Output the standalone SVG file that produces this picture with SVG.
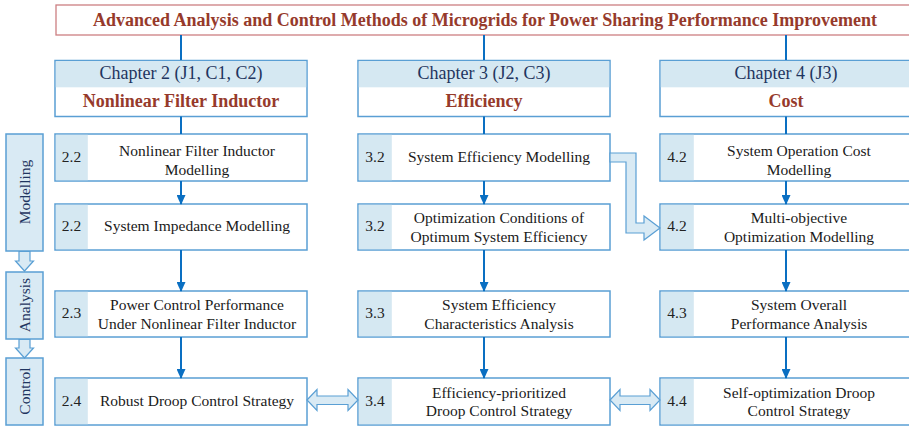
<svg xmlns="http://www.w3.org/2000/svg" width="909" height="426" viewBox="0 0 909 426">
<defs>
<style>
.box{fill:#ffffff;stroke:#5a9fd4;stroke-width:1.5}
.band{fill:#d5e8f2;stroke:none}
.side{fill:#d9eaf4;stroke:#5a9fd4;stroke-width:1.5}
.blk{fill:#d9eaf4;stroke:#5a9fd4;stroke-width:1.2;stroke-linejoin:miter}
.t{font-family:"Liberation Serif","Times New Roman",serif;font-size:15.5px;fill:#1a1a1a;text-anchor:middle}
.n{font-family:"Liberation Serif","Times New Roman",serif;font-size:15.5px;fill:#222222;text-anchor:middle}
.ch{font-family:"Liberation Serif","Times New Roman",serif;font-size:18px;fill:#1f3560;text-anchor:middle}
.cb{font-family:"Liberation Serif","Times New Roman",serif;font-size:18px;font-weight:bold;fill:#963a2b;text-anchor:middle}
.title{font-family:"Liberation Serif","Times New Roman",serif;font-size:18px;font-weight:bold;fill:#963a2b;text-anchor:middle}
.sl{font-family:"Liberation Serif","Times New Roman",serif;font-size:15.5px;fill:#1f3560;text-anchor:middle}
.ln{fill:none;stroke:#0a6fc2;stroke-width:2}
</style>
<marker id="ah" markerUnits="userSpaceOnUse" markerWidth="10" markerHeight="9" refX="9" refY="4.5" orient="auto" viewBox="0 0 10 9">
<path d="M0,0 L10,4.5 L0,9 Z" fill="#0a6fc2"/>
</marker>
</defs>

<g id="title">
<rect x="56" y="5" width="860" height="30" fill="#ffffff" stroke="#cc7f82" stroke-width="1.3"/>
<text class="title" x="485" y="25.5">Advanced Analysis and Control Methods of Microgrids for Power Sharing Performance Improvement</text>
</g>

<g id="ch2">
<rect class="box" x="55" y="60.5" width="252" height="56"/>
<rect class="band" x="55.8" y="61.3" width="250.4" height="26"/>
<text class="ch" x="181" y="79">Chapter 2 (J1, C1, C2)</text>
<text class="cb" x="181" y="107">Nonlinear Filter Inductor</text>
</g>
<g id="ch3">
<rect class="box" x="358" y="60.5" width="252" height="56"/>
<rect class="band" x="358.8" y="61.3" width="250.4" height="26"/>
<text class="ch" x="484" y="79">Chapter 3 (J2, C3)</text>
<text class="cb" x="484" y="107">Efficiency</text>
</g>
<g id="ch4">
<rect class="box" x="660" y="60.5" width="252" height="56"/>
<rect class="band" x="660.8" y="61.3" width="250.4" height="26"/>
<text class="ch" x="786" y="79">Chapter 4 (J3)</text>
<text class="cb" x="786" y="107">Cost</text>
</g>

<g id="side-modelling">
<rect class="side" x="6" y="134" width="37" height="117"/>
<text class="sl" transform="translate(30,192) rotate(-90)">Modelling</text>
</g>
<g id="side-analysis">
<rect class="side" x="6" y="272" width="37" height="67"/>
<text class="sl" transform="translate(30,305) rotate(-90)">Analysis</text>
</g>
<g id="side-control">
<rect class="side" x="6" y="358" width="37" height="67"/>
<text class="sl" transform="translate(30,391) rotate(-90)">Control</text>
</g>

<g id="n21">
<rect class="box" x="55" y="134" width="252" height="47"/>
<rect class="band" x="55.8" y="134.8" width="32" height="45.4"/>
<text class="n" x="71.5" y="162">2.2</text>
<text class="t" x="197" y="156">Nonlinear Filter Inductor</text>
<text class="t" x="197" y="174.5">Modelling</text>
</g>
<g id="n22">
<rect class="box" x="55" y="204" width="252" height="46"/>
<rect class="band" x="55.8" y="204.8" width="32" height="44.4"/>
<text class="n" x="71.5" y="231">2.2</text>
<text class="t" x="197" y="231">System Impedance Modelling</text>
</g>
<g id="n23">
<rect class="box" x="55" y="291" width="252" height="46"/>
<rect class="band" x="55.8" y="291.8" width="32" height="44.4"/>
<text class="n" x="71.5" y="318">2.3</text>
<text class="t" x="197" y="309.5">Power Control Performance</text>
<text class="t" x="197" y="328.5">Under Nonlinear Filter Inductor</text>
</g>
<g id="n24">
<rect class="box" x="55" y="378" width="252" height="47"/>
<rect class="band" x="55.8" y="378.8" width="32" height="45.4"/>
<text class="n" x="71.5" y="406">2.4</text>
<text class="t" x="197" y="406">Robust Droop Control Strategy</text>
</g>

<g id="n31">
<rect class="box" x="358" y="134" width="252" height="47"/>
<rect class="band" x="358.8" y="134.8" width="33" height="45.4"/>
<text class="n" x="375" y="162">3.2</text>
<text class="t" x="499" y="162">System Efficiency Modelling</text>
</g>
<g id="n32">
<rect class="box" x="358" y="204" width="252" height="46"/>
<rect class="band" x="358.8" y="204.8" width="33" height="44.4"/>
<text class="n" x="375" y="231">3.2</text>
<text class="t" x="499" y="223.3">Optimization Conditions of</text>
<text class="t" x="499" y="242.3">Optimum System Efficiency</text>
</g>
<g id="n33">
<rect class="box" x="358" y="291" width="252" height="46"/>
<rect class="band" x="358.8" y="291.8" width="33" height="44.4"/>
<text class="n" x="375" y="318">3.3</text>
<text class="t" x="499" y="309.5">System Efficiency</text>
<text class="t" x="499" y="328.5">Characteristics Analysis</text>
</g>
<g id="n34">
<rect class="box" x="358" y="378" width="252" height="47"/>
<rect class="band" x="358.8" y="378.8" width="33" height="45.4"/>
<text class="n" x="375" y="406">3.4</text>
<text class="t" x="499" y="397.7">Efficiency-prioritized</text>
<text class="t" x="499" y="416">Droop Control Strategy</text>
</g>

<g id="n41">
<rect class="box" x="660" y="134" width="252" height="47"/>
<rect class="band" x="660.8" y="134.8" width="33" height="45.4"/>
<text class="n" x="677" y="162">4.2</text>
<text class="t" x="799" y="156">System Operation Cost</text>
<text class="t" x="799" y="174.5">Modelling</text>
</g>
<g id="n42">
<rect class="box" x="660" y="204" width="252" height="46"/>
<rect class="band" x="660.8" y="204.8" width="33" height="44.4"/>
<text class="n" x="677" y="231">4.2</text>
<text class="t" x="799" y="223.3">Multi-objective</text>
<text class="t" x="799" y="242.3">Optimization  Modelling</text>
</g>
<g id="n43">
<rect class="box" x="660" y="291" width="252" height="46"/>
<rect class="band" x="660.8" y="291.8" width="33" height="44.4"/>
<text class="n" x="677" y="318">4.3</text>
<text class="t" x="799" y="309.5">System Overall</text>
<text class="t" x="799" y="328.5">Performance Analysis</text>
</g>
<g id="n44">
<rect class="box" x="660" y="378" width="252" height="47"/>
<rect class="band" x="660.8" y="378.8" width="33" height="45.4"/>
<text class="n" x="677" y="406">4.4</text>
<text class="t" x="799" y="397.7">Self-optimization Droop</text>
<text class="t" x="799" y="416">Control Strategy</text>
</g>

<g id="connectors">
<path class="ln" d="M181,35 V60 M484,35 V60 M786,35 V60"/>
<path class="ln" d="M181,116.5 V134 M484,116.5 V134 M786,116.5 V134"/>
<path class="ln" marker-end="url(#ah)" d="M181,181 V204"/>
<path class="ln" marker-end="url(#ah)" d="M181,250 V291"/>
<path class="ln" marker-end="url(#ah)" d="M181,337 V378"/>
<path class="ln" marker-end="url(#ah)" d="M484,181 V204"/>
<path class="ln" marker-end="url(#ah)" d="M484,250 V291"/>
<path class="ln" marker-end="url(#ah)" d="M484,337 V378"/>
<path class="ln" marker-end="url(#ah)" d="M786,181 V204"/>
<path class="ln" marker-end="url(#ah)" d="M786,250 V291"/>
<path class="ln" marker-end="url(#ah)" d="M786,337 V378"/>
<path class="blk" d="M610,153 H636 V223 H644 V216 L660,228 L644,240 V233 H626 V162 H610 Z"/>
<path class="blk" d="M307,400 L317,389.5 V396 H348 V389.5 L358,400 L348,410.5 V404.5 H317 V410.5 Z"/>
<path class="blk" d="M610,400 L620,389.5 V396 H650 V389.5 L660,400 L650,410.5 V404.5 H620 V410.5 Z"/>
<path class="blk" d="M19,251.5 H30 V261 H33.5 L24.5,271 L15.5,261 H19 Z"/>
<path class="blk" d="M19,339.5 H30 V348 H33.5 L24.5,358 L15.5,348 H19 Z"/>
</g>
</svg>
